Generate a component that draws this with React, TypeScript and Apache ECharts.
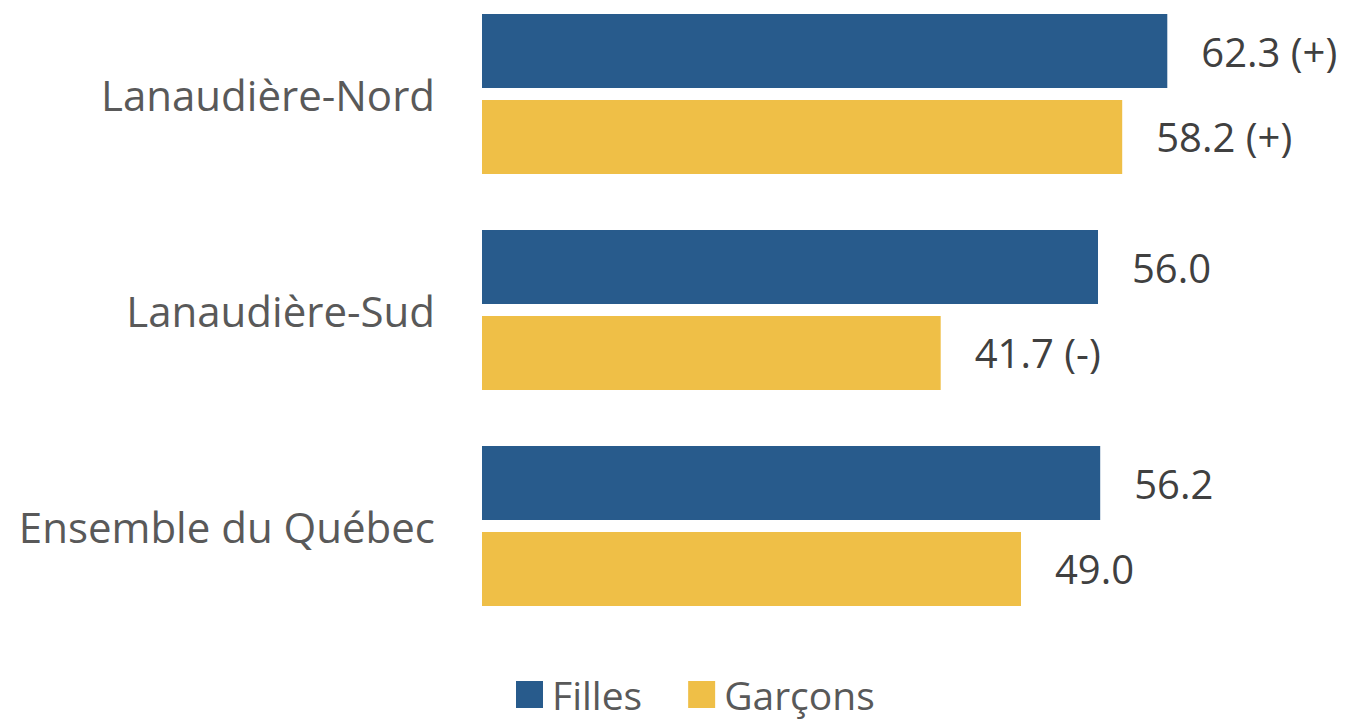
import React, { useEffect, useRef } from "react";
import * as echarts from "echarts";

const categories = ["Lanaudière-Nord", "Lanaudière-Sud", "Ensemble du Québec"];
const filles = [62.3, 56.0, 56.2];
const garcons = [58.2, 41.7, 49.0];
const fillesLabels = ["62.3 (+)", "56.0", "56.2"];
const garconsLabels = ["58.2 (+)", "41.7 (-)", "49.0"];

const FONT = "'Open Sans', sans-serif";

export default function App() {
  const ref = useRef<HTMLDivElement>(null);
  useEffect(() => {
    if (!ref.current) return;
    const chart = echarts.init(ref.current, undefined, { renderer: "svg" });
    chart.setOption({
      animation: false,
      textStyle: { fontFamily: FONT },
      grid: {
        left: 482,
        top: -14,
        width: 770,
        height: 648,
        containLabel: false,
        outerBoundsMode: "none",
      },
      xAxis: {
        type: "value",
        min: 0,
        max: 70,
        show: false,
      },
      yAxis: {
        type: "category",
        data: categories,
        inverse: true,
        axisLine: { show: false },
        axisTick: { show: false },
        axisLabel: {
          fontSize: 42,
          color: "#595959",
          margin: 47,
          fontFamily: FONT,
        },
      },
      legend: {
        left: 511,
        top: 670,
        icon: "rect",
        itemWidth: 27,
        itemHeight: 27,
        itemGap: 46,
        textStyle: {
          fontSize: 39,
          color: "#595959",
          fontFamily: FONT,
          padding: [0, 0, 0, 4],
        },
        data: ["Filles", "Garçons"],
      },
      series: [
        {
          name: "Filles",
          type: "bar",
          data: filles,
          barWidth: 74,
          barGap: "16%",
          itemStyle: { color: "#285B8C" },
          label: {
            show: true,
            position: "right",
            distance: 34,
            fontSize: 40,
            color: "#404040",
            fontFamily: FONT,
            formatter: (p: any) => fillesLabels[p.dataIndex],
          },
        },
        {
          name: "Garçons",
          type: "bar",
          data: garcons,
          barWidth: 74,
          barGap: "16%",
          itemStyle: { color: "#EFBF47" },
          label: {
            show: true,
            position: "right",
            distance: 34,
            fontSize: 40,
            color: "#404040",
            fontFamily: FONT,
            formatter: (p: any) => garconsLabels[p.dataIndex],
          },
        },
      ],
    });
    return () => chart.dispose();
  }, []);
  return (
    <div
      ref={ref}
      style={{ position: "absolute", left: 0, top: 0, width: 1357, height: 727 }}
    />
  );
}
